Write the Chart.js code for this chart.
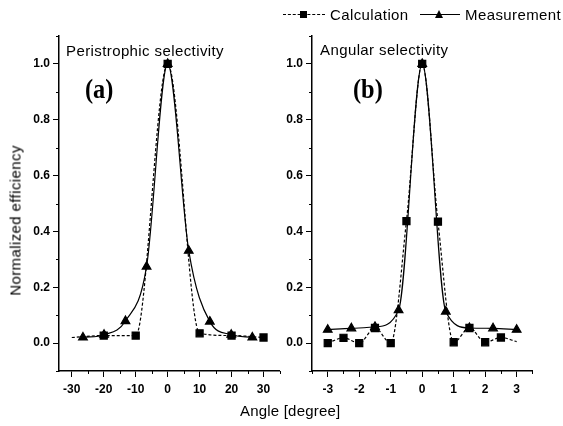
<!DOCTYPE html>
<html>
<head>
<meta charset="utf-8">
<script src="https://cdn.jsdelivr.net/npm/chart.js@4"></script>
<style>
  body { margin: 0; background: #fff; }
  #page { position: relative; width: 563px; height: 426px; overflow: hidden; font-family: "Liberation Sans", Arial, sans-serif; color: #000; }
  canvas { position: absolute; top: 0; }
  .txt { position: absolute; white-space: nowrap; font-size: 15px; line-height: 15px; letter-spacing: 0.4px; color: #000; }
  .tag { position: absolute; white-space: nowrap; font-family: "Liberation Serif", "Times New Roman", serif; font-weight: bold; font-size: 28px; line-height: 28px; transform: scaleX(0.87); transform-origin: left top; }
  .ln { position: absolute; height: 0; }
  .sq { position: absolute; width: 7px; height: 7px; background: #000; }
  .tri { position: absolute; width: 0; height: 0; border-left: 4.5px solid transparent; border-right: 4.5px solid transparent; border-bottom: 8px solid #000; }
</style>
</head>
<body>
<div id="page">
  <canvas id="chartA" width="290" height="426" style="left:0"></canvas>
  <canvas id="chartB" width="293" height="426" style="left:270px"></canvas>

  <!-- legend -->
  <div class="ln" style="left:283px; top:14px; width:42px; border-top:1px dashed #000"></div>
  <div class="sq" style="left:300px; top:11px"></div>
  <div class="txt" style="left:330px; top:7px">Calculation</div>
  <div class="ln" style="left:420px; top:14px; width:40px; border-top:1px solid #000"></div>
  <div class="tri" style="left:435px; top:10px"></div>
  <div class="txt" style="left:465px; top:7px">Measurement</div>

  <!-- panel captions -->
  <div class="txt" style="left:66px; top:43px">Peristrophic selectivity</div>
  <div class="tag" style="left:85px; top:75px">(a)</div>
  <div class="txt" style="left:320px; top:42px">Angular selectivity</div>
  <div class="tag" style="left:353px; top:75px">(b)</div>

  <!-- axis titles -->
  <div class="txt" style="left:-85px; top:213px; width:200px; text-align:center; transform:rotate(-90deg)">Normalized efficiency</div>
  <div class="txt" style="left:240px; top:403px; letter-spacing:0.2px">Angle [degree]</div>
</div>

<script>
// (a) peristrophic selectivity
const anglesCalcA = [-30, -20, -10, 0, 10, 20, 30];
const calcA = [0.02, 0.027, 0.027, 1.0, 0.035, 0.027, 0.02];
const anglesMeasA = [-26.5, -19.9, -13.2, -6.6, 0, 6.6, 13.2, 19.9, 26.5];
const measA = [0.02, 0.03, 0.079, 0.274, 1.0, 0.331, 0.077, 0.03, 0.02];

// (b) angular selectivity
const anglesCalcB = [-3, -2.5, -2, -1.5, -1, -0.5, 0, 0.5, 1, 1.5, 2, 2.5, 3];
const calcB = [0.0, 0.019, 0.0, 0.054, 0.0, 0.437, 1.0, 0.435, 0.003, 0.054, 0.003, 0.02, 0.005];
const anglesMeasB = [-3, -2.25, -1.5, -0.75, 0, 0.75, 1.5, 2.25, 3];
const measB = [0.048, 0.053, 0.058, 0.118, 1.0, 0.113, 0.054, 0.053, 0.048];

const yTicks = [0.0, 0.2, 0.4, 0.6, 0.8, 1.0];
const xTicksA = [-30, -20, -10, 0, 10, 20, 30];
const xTicksB = [-3, -2, -1, 0, 1, 2, 3];

Chart.defaults.font.family = '"Liberation Sans", Arial, sans-serif';
Chart.defaults.color = '#000';

const toPoints = (xs, ys) => xs.map((x, i) => ({ x, y: ys[i] }));

// small unlabeled ticks halfway between the labeled ones
const minorTicks = {
  id: 'minorTicks',
  afterDraw(chart) {
    const ctx = chart.ctx;
    const mids = scale => {
      const v = scale.ticks.map(t => t.value);
      const step = v[1] - v[0];
      const out = [];
      for (let m = v[0] - step / 2; m <= scale.max + 1e-9; m += step) {
        if (m >= scale.min - 1e-9) out.push(m);
      }
      return out;
    };
    const { x, y } = chart.scales;
    ctx.save();
    ctx.strokeStyle = '#000';
    ctx.lineWidth = 1;
    mids(x).forEach(v => {
      const px = Math.round(x.getPixelForValue(v)) + 0.5;
      ctx.beginPath(); ctx.moveTo(px, x.top); ctx.lineTo(px, x.top + 3); ctx.stroke();
    });
    mids(y).forEach(v => {
      const py = Math.round(y.getPixelForValue(v)) + 0.5;
      ctx.beginPath(); ctx.moveTo(y.right, py); ctx.lineTo(y.right - 3, py); ctx.stroke();
    });
    ctx.restore();
  }
};

function makeChart(id, calcX, calcY, measX, measY, xTicks, xMin, xMax, yWidth, padRight, hideCalcIdx) {
  const axisGrid = { drawOnChartArea: false, drawTicks: true, tickLength: 6, color: '#000', lineWidth: 1 };
  const axisBorder = { display: true, color: '#000', width: 1.5 };
  return new Chart(document.getElementById(id), {
    type: 'line',
    data: {
      datasets: [
        {
          label: 'Calculation',
          data: toPoints(calcX, calcY),
          borderColor: '#000',
          backgroundColor: '#000',
          borderWidth: 1.2,
          borderDash: [3, 2],
          pointStyle: 'rect',
          pointRadius: c => (c.dataIndex === hideCalcIdx ? 0 : 5),
          cubicInterpolationMode: 'monotone'
        },
        {
          label: 'Measurement',
          data: toPoints(measX, measY),
          borderColor: '#000',
          backgroundColor: '#000',
          borderWidth: 1.2,
          pointStyle: 'triangle',
          pointRadius: 5,
          cubicInterpolationMode: 'monotone'
        }
      ]
    },
    options: {
      responsive: false,
      animation: false,
      layout: { padding: { top: 36, right: padRight, bottom: 0, left: 0 } },
      plugins: { legend: { display: false }, tooltip: { enabled: false } },
      scales: {
        x: {
          type: 'linear',
          min: xMin,
          max: xMax,
          afterBuildTicks: s => { s.ticks = xTicks.map(v => ({ value: v })); },
          afterFit: s => { s.height = 55; },
          ticks: { font: { size: 12, weight: 'bold' }, padding: 5, maxRotation: 0, callback: v => String(v) },
          grid: axisGrid,
          border: axisBorder
        },
        y: {
          min: -0.1,
          max: 1.1,
          afterBuildTicks: s => { s.ticks = yTicks.map(v => ({ value: v })); },
          afterFit: s => { s.width = yWidth; },
          ticks: { font: { size: 12, weight: 'bold' }, padding: 3, callback: v => v.toFixed(1) },
          grid: axisGrid,
          border: axisBorder
        }
      }
    },
    plugins: [minorTicks]
  });
}

makeChart('chartA', anglesCalcA, calcA, anglesMeasA, measA, xTicksA, -34, 35, 59, 10.5, 0);
makeChart('chartB', anglesCalcB, calcB, anglesMeasB, measB, xTicksB, -3.5, 3.5, 42, 30.6, anglesCalcB.length - 1);
</script>
</body>
</html>
